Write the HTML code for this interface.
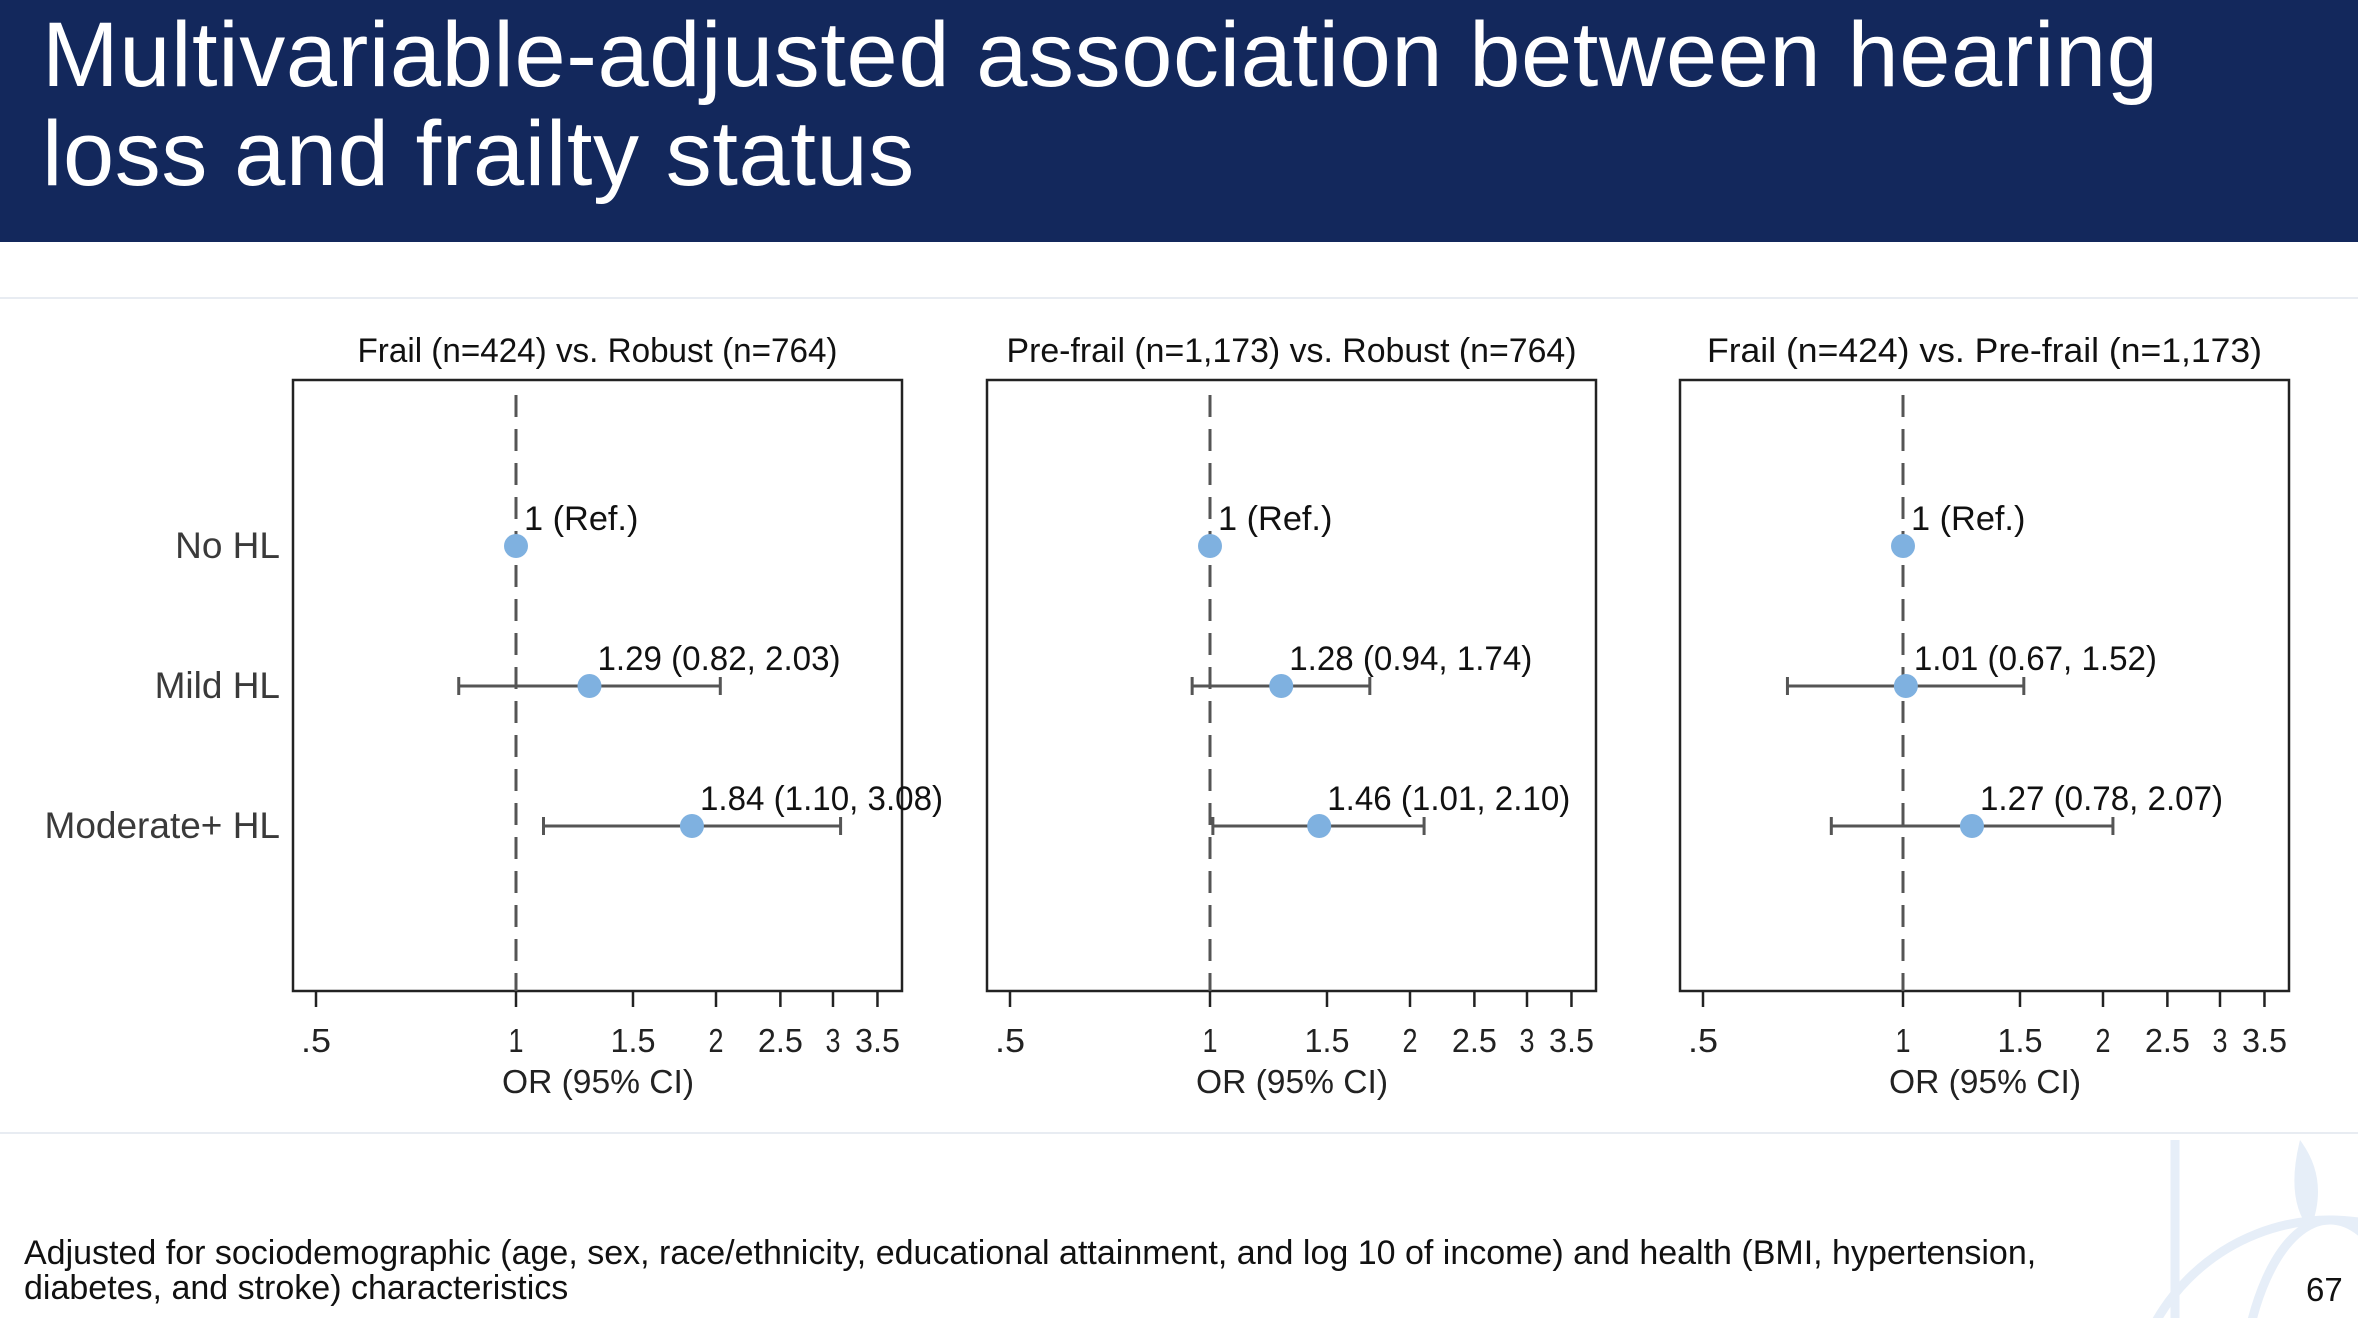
<!DOCTYPE html>
<html><head><meta charset="utf-8"><style>
html,body{margin:0;padding:0;background:#fff;width:2358px;height:1318px;overflow:hidden;}
body{position:relative;font-family:"Liberation Sans",sans-serif;}
svg{overflow:hidden;}
#hdr{position:absolute;left:0;top:0;width:2358px;height:242px;background:#13285c;}
#title{position:absolute;left:42px;top:6px;color:#fff;font-size:92px;line-height:99px;letter-spacing:0.6px;white-space:nowrap;}
.sep{position:absolute;left:0;width:2358px;height:2px;background:#e8ecf2;}
#foot{position:absolute;left:24px;top:1236px;font-size:34px;line-height:35px;color:#111;white-space:nowrap;}
#pg{position:absolute;left:2306px;top:1272px;font-size:33px;line-height:36px;color:#111;}
</style></head><body>
<div id="hdr"><div id="title">Multivariable-adjusted association between hearing<br>loss and frailty status</div></div>
<div class="sep" style="top:297px"></div>
<div class="sep" style="top:1132px"></div>
<svg style="position:absolute;left:0;top:0" width="2358" height="1318">
<g fill="none" stroke="#e6eef8" stroke-width="9"><circle cx="2330" cy="1420" r="200"/><ellipse cx="2330" cy="1420" rx="90" ry="200"/><line x1="2175" y1="1140" x2="2175" y2="1318"/></g>
<path d="M2300 1140 q30 40 10 90 q-25-30 -10-90z" fill="#e6eef8"/>
</svg>
<svg id="chart" style="position:absolute;left:0;top:0" width="2358" height="1318"></svg>
<div id="foot">Adjusted for sociodemographic (age, sex, race/ethnicity, educational attainment, and log 10 of income) and health (BMI, hypertension,<br>diabetes, and stroke) characteristics</div>
<div id="pg">67</div>
<script>
const rowLabels=["No HL","Mild HL","Moderate+ HL"];
const panelTitles=["Frail (n=424) vs. Robust (n=764)","Pre-frail (n=1,173) vs. Robust (n=764)","Frail (n=424) vs. Pre-frail (n=1,173)"];
const p1OR=[1,1.29,1.84],p1Lo=[null,0.82,1.10],p1Hi=[null,2.03,3.08];
const p2OR=[1,1.28,1.46],p2Lo=[null,0.94,1.01],p2Hi=[null,1.74,2.10];
const p3OR=[1,1.01,1.27],p3Lo=[null,0.67,0.78],p3Hi=[null,1.52,2.07];
const p1Lab=["1 (Ref.)","1.29 (0.82, 2.03)","1.84 (1.10, 3.08)"];
const p2Lab=["1 (Ref.)","1.28 (0.94, 1.74)","1.46 (1.01, 2.10)"];
const p3Lab=["1 (Ref.)","1.01 (0.67, 1.52)","1.27 (0.78, 2.07)"];
const ticks=[0.5,1,1.5,2,2.5,3,3.5];
const tickLabels=[".5","1","1.5","2","2.5","3","3.5"];
const panels=[{or:p1OR,lo:p1Lo,hi:p1Hi,lab:p1Lab},{or:p2OR,lo:p2Lo,hi:p2Hi,lab:p2Lab},{or:p3OR,lo:p3Lo,hi:p3Hi,lab:p3Lab}];
const svg=document.getElementById('chart');const NS="http://www.w3.org/2000/svg";
function mk(t,a,txt){const e=document.createElementNS(NS,t);for(const k in a)e.setAttribute(k,a[k]);if(txt!=null)e.textContent=txt;svg.appendChild(e);return e;}
const boxW=609,boxTop=380,boxBot=991,lefts=[293,987,1680];
const unit=200;
function yRow(i){return 546+i*140;}
rowLabels.forEach((r,i)=>{const t=mk('text',{x:280,y:yRow(i)+12,'text-anchor':'end','font-size':37,fill:'#3a3a3a'},r);
});
panels.forEach((p,k)=>{
 const L=lefts[k];const x1=L+223;
 const xs=v=>x1+unit*Math.log2(v);
 const t=mk('text',{x:L+boxW/2,y:362,'text-anchor':'middle','font-size':34,fill:'#111',textLength:panelTitles[k].length*15,lengthAdjust:'spacingAndGlyphs'},panelTitles[k]);
 
 const b=mk('rect',{x:L,y:boxTop,width:boxW,height:boxBot-boxTop,fill:'none',stroke:'#222','stroke-width':2.5});
 
 const d=mk('line',{x1:xs(1),x2:xs(1),y1:boxTop+15,y2:boxBot,stroke:'#555','stroke-width':3,'stroke-dasharray':'22,12'});
 
 ticks.forEach((v,j)=>{const tk=mk('line',{x1:xs(v),x2:xs(v),y1:boxBot,y2:boxBot+16,stroke:'#222','stroke-width':2.5});
  
  const tl=mk('text',{x:xs(v),y:1052,'text-anchor':'middle','font-size':33,fill:'#222',textLength:tickLabels[j].length*15,lengthAdjust:'spacingAndGlyphs'},tickLabels[j]);
  });
 const at=mk('text',{x:L+305,y:1093,'text-anchor':'middle','font-size':33,fill:'#222',textLength:192,lengthAdjust:'spacingAndGlyphs'},"OR (95% CI)");
 
 p.or.forEach((v,i)=>{const y=yRow(i);
  if(p.lo[i]!=null){const a=xs(p.lo[i]),c=xs(p.hi[i]);
   const ci=mk('path',{d:`M${a} ${y}H${c}M${a} ${y-9}V${y+9}M${c} ${y-9}V${y+9}`,stroke:'#555','stroke-width':3,fill:'none'});
   }
  const pt=mk('circle',{cx:xs(v),cy:y,r:12,fill:'#7fb1e0'});
  
  const lb=mk('text',{x:xs(v)+8,y:y-16,'font-size':34,fill:'#111',textLength:p.lab[i].length*14.3,lengthAdjust:'spacingAndGlyphs'},p.lab[i]);
  });
});
</script>
</body></html>
